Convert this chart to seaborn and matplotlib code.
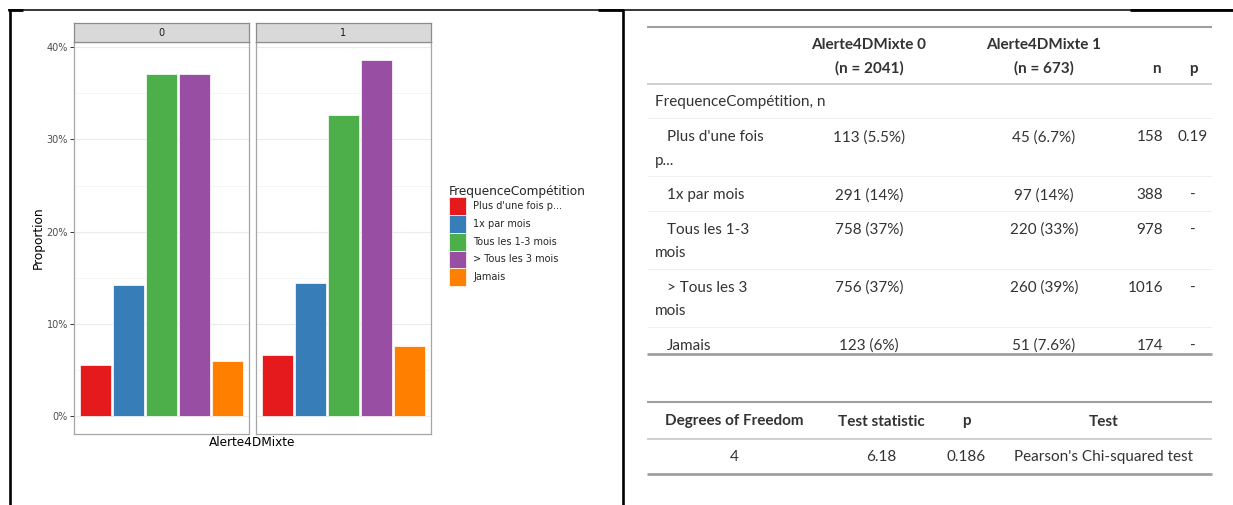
import textwrap

import numpy as np
import pandas as pd
import matplotlib
matplotlib.use("Agg")
import matplotlib.pyplot as plt
from matplotlib.patches import Patch
from matplotlib.ticker import PercentFormatter, MultipleLocator
import seaborn as sns

# ---- data -----------------------------------------------------------------
groups = ["0", "1"]
categories = ["Plus d'une fois p...", "1x par mois", "Tous les 1-3 mois",
              "> Tous les 3 mois", "Jamais"]
counts_0 = [113, 291, 758, 756, 123]
counts_1 = [45, 97, 220, 260, 51]
pct_labels_0 = ["5.5%", "14%", "37%", "37%", "6%"]
pct_labels_1 = ["6.7%", "14%", "33%", "39%", "7.6%"]
p_labels = ["0.19", "-", "-", "-", "-"]
palette = ["#E41A1C", "#377EB8", "#4DAF4A", "#984EA3", "#FF7F00"]

test_header = ["Degrees of Freedom", "Test statistic", "p", "Test"]
test_values = ["4", "6.18", "0.186", "Pearson's Chi-squared test"]

counts = {"0": counts_0, "1": counts_1}
totals = {g: sum(c) for g, c in counts.items()}
rows = []
for g in groups:
    for cat, n in zip(categories, counts[g]):
        rows.append({"Alerte4DMixte": g, "FrequenceCompétition": cat,
                     "n": n, "Proportion": n / totals[g]})
df = pd.DataFrame(rows)

# ---- figure ---------------------------------------------------------------
sns.set_style("white")
plt.rcParams["font.family"] = ["DejaVu Sans"]

W, H = 1233, 505
fig = plt.figure(figsize=(W / 100, H / 100), dpi=100)


def box(x0, y0, x1, y1):
    """Pixel box (top-left origin) -> figure fraction rectangle."""
    return [x0 / W, 1 - y1 / H, (x1 - x0) / W, (y1 - y0) / H]


canvas = fig.add_axes([0, 0, 1, 1], zorder=-5)
canvas.set_xlim(0, W)
canvas.set_ylim(H, 0)
canvas.axis("off")

# enclosing cell borders
bk = "black"
canvas.plot([8, W], [9.8, 9.8], color=bk, lw=1.1, solid_capstyle="butt")
canvas.plot([8, 23], [10.3, 10.3], color=bk, lw=2.0, solid_capstyle="butt")
canvas.plot([598, 623], [10.3, 10.3], color=bk, lw=2.0, solid_capstyle="butt")
canvas.plot([1130, W], [10.3, 10.3], color=bk, lw=2.0, solid_capstyle="butt")
canvas.plot([9.6, 9.6], [9, H], color=bk, lw=1.9, solid_capstyle="butt")
canvas.plot([623, 623], [9, H], color=bk, lw=1.9, solid_capstyle="butt")

# ---- faceted bar chart ----------------------------------------------------
panel_x = [(74, 249), (256, 431)]
p_top, p_bottom, s_top = 42, 434, 23.5
axis_grey = "#4D4D4D"

for i, g in enumerate(groups):
    x0, x1 = panel_x[i]
    ax = fig.add_axes(box(x0, p_top, x1, p_bottom))
    sub = df[df["Alerte4DMixte"] == g]
    sns.barplot(data=sub, x="Alerte4DMixte", y="Proportion",
                hue="FrequenceCompétition", hue_order=categories,
                palette=palette, saturation=1, width=0.939, gap=0.07,
                edgecolor="white", linewidth=0.5, legend=False, ax=ax,
                errorbar=None, zorder=3)
    ax.set_xlim(-0.5, 0.5)
    ax.set_ylim(-0.0193, 0.4056)
    ax.yaxis.set_major_locator(MultipleLocator(0.1))
    ax.yaxis.set_minor_locator(MultipleLocator(0.05))
    ax.yaxis.set_major_formatter(PercentFormatter(1.0, decimals=0))
    ax.set_axisbelow(True)
    ax.grid(axis="y", which="major", color="#EBEBEB", lw=0.8, zorder=0)
    ax.grid(axis="y", which="minor", color="#F2F2F2", lw=0.5, zorder=0)
    ax.grid(axis="x", visible=False)
    ax.set_xticks([])
    ax.set_xlabel("")
    ax.set_ylabel("")
    for sp in ax.spines.values():
        sp.set_color("#A6A6A6")
        sp.set_linewidth(0.9)
    ax.tick_params(axis="y", which="minor", length=0)
    if i == 0:
        ax.tick_params(axis="y", which="major", length=2.9, width=0.7,
                       color="#333333", labelsize=7, labelcolor=axis_grey,
                       pad=1.5, left=True)
    else:
        ax.tick_params(axis="y", which="major", length=0, labelleft=False)

    # facet strip
    sax = fig.add_axes(box(x0, s_top, x1, p_top))
    sax.set_facecolor("#D9D9D9")
    sax.set_xticks([])
    sax.set_yticks([])
    for sp in sax.spines.values():
        sp.set_color("#8C8C8C")
        sp.set_linewidth(0.9)
    sax.text(0.5, 0.5, g, transform=sax.transAxes, ha="center",
             va="center", fontsize=7, color="#1A1A1A")

    if i == 1:
        handles = [Patch(facecolor=c, edgecolor="white", linewidth=0.5)
                   for c in palette]
        leg = ax.legend(handles, categories, title="FrequenceCompétition",
                        loc="upper left", bbox_to_anchor=(448.5, 184.5),
                        bbox_transform=canvas.transData, frameon=False,
                        fontsize=7, title_fontsize=8.7, borderpad=0,
                        handlelength=1.85, handleheight=2.42,
                        labelspacing=0.0, handletextpad=0.7,
                        borderaxespad=0, alignment="left")

canvas.text(38, 238, "Proportion", rotation=90, ha="center", va="center",
            fontsize=8.7, color="black")
canvas.text(252.5, 442, "Alerte4DMixte", ha="center", va="center",
            fontsize=8.7, color="black")

# ---- summary table --------------------------------------------------------
tfont = "Lato"
tcol = "#333333"
fs = 11
c_lab, c_g0, c_g1, c_n, c_p = 655, 869, 1044, 1163, 1193
tx0, tx1 = 647, 1212


def rule(y, lw, color):
    canvas.plot([tx0, tx1], [y, y], color=color, lw=lw,
                solid_capstyle="butt")


def cell(x, y, s, ha="center", bold=False):
    canvas.text(x, y, s, ha=ha, va="center", fontsize=fs, color=tcol,
                family=tfont, fontweight="bold" if bold else "normal")


rule(26.5, 1.5, "#A0A0A0")
for j, g in enumerate(groups):
    xc = c_g0 if j == 0 else c_g1
    cell(xc, 45, f"Alerte4DMixte {g}", bold=True)
    cell(xc, 68, f"(n = {totals[g]})", bold=True)
cell(c_n - 2, 69, "n", ha="right", bold=True)
cell(c_p, 69, "p", bold=True)
rule(84.3, 1.1, "#C4C4C4")
cell(c_lab, 102, "FrequenceCompétition, n", ha="left")

y = 118.3
rule(y, 0.6, "#EDEDED")
for k, cat in enumerate(categories):
    lines = textwrap.wrap(cat, 15)
    ty = y + 19
    cell(c_lab + 12, ty, lines[0], ha="left")
    for m, extra in enumerate(lines[1:], start=1):
        cell(c_lab, ty + 23.5 * m, extra, ha="left")
    cell(c_g0, ty, f"{counts_0[k]} ({pct_labels_0[k]})")
    cell(c_g1, ty, f"{counts_1[k]} ({pct_labels_1[k]})")
    cell(c_n, ty, f"{counts_0[k] + counts_1[k]}", ha="right")
    cell(c_p, ty, p_labels[k])
    y += 11 + 23.5 * len(lines)
    if k < len(categories) - 1:
        rule(y, 0.6, "#EDEDED")
rule(354, 2.0, "#A0A0A0")

# chi-squared test table
test_x = [734, 881, 966, 1104]
rule(402.3, 1.5, "#A0A0A0")
for xc, s in zip(test_x, test_header):
    cell(xc, 421.5, s, bold=True)
rule(439, 1.1, "#C4C4C4")
for xc, s in zip(test_x, test_values):
    cell(xc, 456.7, s)
rule(474, 2.0, "#A0A0A0")

fig.savefig("out.png", dpi=100, facecolor="white")
